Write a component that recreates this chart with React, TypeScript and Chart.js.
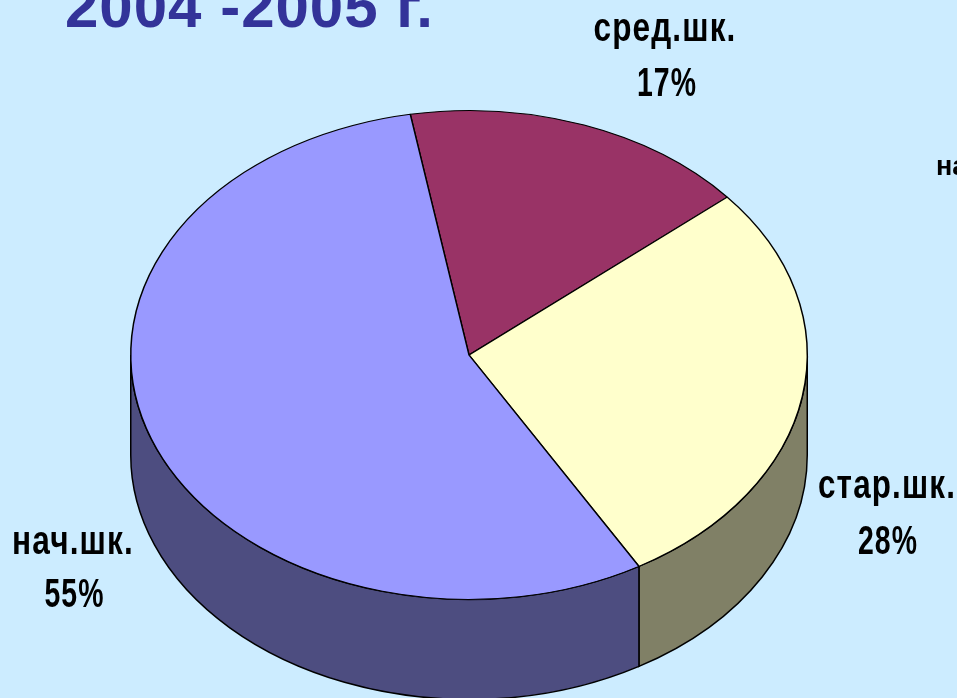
import React, { useEffect, useRef } from "react";
import { Chart, registerables } from "chart.js";

Chart.register(...registerables);

const titleText = "2004 -2005 г.";
const categories = ["сред.шк.", "стар.шк.", "нач.шк."];
const values = [16.6, 27.8, 55.6];
// Percentages as printed beside the wedges
const printedPercents = ["17%", "28%", "55%"];
const topColors = ["#993366", "#FFFFCC", "#9999FF"];
const wallColors = ["#4D1A33", "#808066", "#4D4D80"];
const strayText = "на";

// Placement of each label: name centre x, value centre x, first baseline, second baseline, name width, value width
const labelPlacement = [
  { x: 665, vx: 667, y1: 41, y2: 96, w1: 143, w2: 60 },
  { x: 887, vx: 888, y1: 498, y2: 554, w1: 138, w2: 60 },
  { x: 73, vx: 74.5, y1: 554, y2: 607, w1: 122, w2: 60 },
];

const SQUASH = 245 / 339;
const DEPTH = 100;

const pseudo3d = {
  id: "pseudo3d",
  beforeDatasetsDraw(chart: any) {
    const { ctx } = chart;
    const arcs = chart.getDatasetMeta(0).data;
    const { x: cx, y: cy, outerRadius: r } = arcs[0];
    const ry = r * SQUASH;
    arcs.forEach((arc: any, i: number) => {
      // Normalise so the visible front half (0..PI) can be intersected
      for (const shift of [0, Math.PI * 2, -Math.PI * 2]) {
        const a = Math.max(arc.startAngle + shift, 0);
        const b = Math.min(arc.endAngle + shift, Math.PI);
        if (b <= a) continue;
        ctx.save();
        ctx.beginPath();
        ctx.ellipse(cx, cy, r, ry, 0, a, b, false);
        ctx.ellipse(cx, cy + DEPTH, r, ry, 0, b, a, true);
        ctx.closePath();
        ctx.fillStyle = wallColors[i];
        ctx.fill();
        ctx.lineWidth = 1.5;
        ctx.strokeStyle = "#000000";
        ctx.stroke();
        ctx.restore();
      }
    });
    ctx.save();
    ctx.translate(cx, cy);
    ctx.scale(1, SQUASH);
    ctx.translate(-cx, -cy);
  },
  afterDatasetsDraw(chart: any) {
    const { ctx } = chart;
    ctx.restore();
    ctx.save();
    ctx.fillStyle = "#333399";
    ctx.font = 'bold 60px "Liberation Sans", Arial, sans-serif';
    ctx.textAlign = "left";
    ctx.textBaseline = "alphabetic";
    ctx.letterSpacing = "1px";
    ctx.fillText(titleText, 65, 27);
    ctx.fillStyle = "#000000";
    ctx.textAlign = "center";
    ctx.letterSpacing = "1.5px";
    ctx.font = 'bold 41px "Liberation Sans", Arial, sans-serif';
    categories.forEach((name, i) => {
      const p = labelPlacement[i];
      ctx.fillText(name, p.x, p.y1, p.w1);
      ctx.fillText(printedPercents[i], p.vx, p.y2, p.w2);
    });
    ctx.letterSpacing = "0px";
    ctx.textAlign = "left";
    ctx.font = 'bold 27px "Liberation Sans", Arial, sans-serif';
    ctx.fillText(strayText, 936, 175);
    ctx.restore();
  },
};

export default function App() {
  const ref = useRef<HTMLCanvasElement>(null);
  useEffect(() => {
    const chart = new Chart(ref.current as HTMLCanvasElement, {
      type: "pie",
      data: {
        labels: categories,
        datasets: [
          {
            data: values,
            backgroundColor: topColors,
            borderColor: "#000000",
            borderWidth: 1.5,
          },
        ],
      },
      options: {
        animation: false,
        responsive: false,
        rotation: -10,
        layout: { padding: { left: 130, right: 149, top: 16, bottom: 4 } },
        plugins: {
          legend: { display: false },
          tooltip: { enabled: false },
          title: { display: false },
        },
      },
      plugins: [pseudo3d],
    } as any);
    return () => chart.destroy();
  }, []);
  return (
    <div style={{ position: "fixed", left: 0, top: 0, width: 957, height: 698, background: "#CCECFF", overflow: "hidden" }}>
      <canvas ref={ref} width={957} height={698} style={{ display: "block" }} />
    </div>
  );
}
